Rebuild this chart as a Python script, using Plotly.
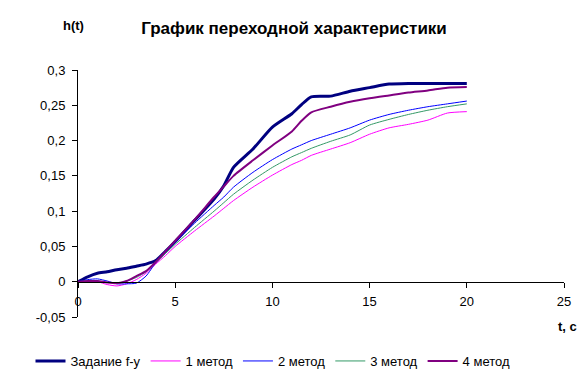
import plotly.graph_objects as go

t = [0, 0.5, 1, 1.5, 2, 2.5, 3, 3.5, 4, 4.5, 5, 6, 7, 7.5, 8, 9, 10, 11, 11.5, 12,
     13, 14, 15, 16, 17, 18, 19, 20]

h_zadanie = [0, 0.007, 0.012, 0.014, 0.017, 0.019, 0.022, 0.025, 0.030, 0.043, 0.057,
             0.087, 0.117, 0.136, 0.162, 0.188, 0.219, 0.238, 0.251, 0.262,
             0.263, 0.270, 0.275, 0.280, 0.281, 0.281, 0.281, 0.281]
h_m1 = [0, 0.0, 0.0, -0.004, -0.006, -0.003, 0.003, 0.012, 0.025, 0.037, 0.050,
        0.072, 0.093, 0.104, 0.115, 0.134, 0.151, 0.166, 0.172, 0.179,
        0.188, 0.197, 0.209, 0.218, 0.223, 0.229, 0.239, 0.241]
h_m2 = [0, 0.003, 0.004, 0.001, -0.003, -0.003, -0.002, 0.008, 0.027, 0.042, 0.056,
        0.083, 0.108, 0.120, 0.134, 0.155, 0.173, 0.188, 0.194, 0.200,
        0.209, 0.218, 0.229, 0.237, 0.243, 0.248, 0.252, 0.256]
h_m3 = [0, 0.001, 0.001, -0.001, -0.002, 0.001, 0.006, 0.014, 0.027, 0.040, 0.053,
        0.077, 0.100, 0.112, 0.124, 0.144, 0.162, 0.177, 0.183, 0.189,
        0.199, 0.208, 0.222, 0.230, 0.237, 0.243, 0.248, 0.252]
h_m4 = [0, 0.001, 0.001, -0.001, -0.002, 0.001, 0.008, 0.015, 0.028, 0.043, 0.058,
        0.088, 0.120, 0.135, 0.150, 0.172, 0.193, 0.213, 0.228, 0.240,
        0.248, 0.255, 0.260, 0.264, 0.268, 0.271, 0.275, 0.276]

series_names = ["Задание f-y", "1 метод", "2 метод", "3 метод", "4 метод"]
series_values = [h_zadanie, h_m1, h_m2, h_m3, h_m4]
series_colors = ["#000080", "#FF00FF", "#0000FF", "#339966", "#800080"]
series_widths = [3, 1, 1, 1, 2]

y_tickvals = [-0.05, 0, 0.05, 0.1, 0.15, 0.2, 0.25, 0.3]
y_ticktext = ["-0,05", "0", "0,05", "0,1", "0,15", "0,2", "0,25", "0,3"]
x_tickvals = [0, 5, 10, 15, 20, 25]
x_ticktext = ["0", "5", "10", "15", "20", "25"]

FONT = "Liberation Sans, Arial, sans-serif"

# page body has an 8px default margin -> figure occupies 8..588 x 8..381
OFF = 8
PL, PR, PT = 78, 564, 70          # plot area in page pixels
PB_AREA = 377                     # bottom of plotly plot area (page px)
AXIS_BOTTOM = 317                 # bottom of the visible y axis (page px)
W, H = 588 - OFF, 381 - OFF
pw, ph = PR - PL, PB_AREA - PT

def px_x(x):
    return (x - PL) / pw

def px_y(y):
    return (PB_AREA - y) / ph

dom0 = px_y(AXIS_BOTTOM)
y_lo, y_hi = -0.05, 0.3

fig = go.Figure()
for name, vals, col, w in zip(series_names, series_values, series_colors, series_widths):
    fig.add_trace(go.Scatter(x=t, y=vals, mode="lines", name=name,
                             line=dict(color=col, width=w, shape="spline", smoothing=0.6)))

fig.update_layout(
    width=W, height=H,
    margin=dict(l=PL - OFF, r=588 - PR, t=PT - OFF, b=381 - PB_AREA),
    paper_bgcolor="white", plot_bgcolor="white",
    font=dict(family=FONT, size=13, color="black"),
    showlegend=True,
    legend=dict(orientation="h", x=px_x(273), xanchor="center",
                y=px_y(361), yanchor="middle", font=dict(size=13),
                itemwidth=30, tracegroupgap=0, bgcolor="rgba(0,0,0,0)"),
    title=dict(text="<b>График переходной характеристики</b>", x=(294 - OFF) / W,
               xanchor="center", xref="container", yref="container",
               y=(381 - 28) / H, yanchor="middle", font=dict(size=17)),
    xaxis=dict(range=[0, 25], tickvals=x_tickvals, ticktext=x_ticktext,
               showgrid=False, zeroline=False, showline=True, linecolor="black",
               linewidth=1, ticks="outside", ticklen=5, tickcolor="black",
               anchor="free", automargin=False, ticklabelstandoff=3,
               position=dom0 + (0 - y_lo) / (y_hi - y_lo) * (1 - dom0)),
    yaxis=dict(range=[y_lo, y_hi], domain=[dom0, 1], tickvals=y_tickvals,
               ticktext=y_ticktext, automargin=False,
               showgrid=False, zeroline=False, showline=True, linecolor="black",
               linewidth=1, ticks="outside", ticklen=5, tickcolor="black",
               ticklabelstandoff=4),
    annotations=[
        dict(text="<b>h(t)</b>", xref="paper", yref="paper", x=px_x(73),
             y=px_y(26), xanchor="center", yanchor="middle",
             showarrow=False, font=dict(size=13)),
        dict(text="<b>t, c</b>", xref="paper", yref="paper", x=px_x(567),
             y=px_y(326), xanchor="center", yanchor="middle",
             showarrow=False, font=dict(size=13)),
    ],
)

fig.write_html("out.html")
